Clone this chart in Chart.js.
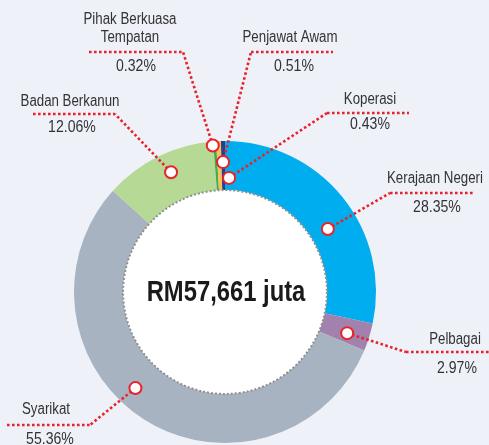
<!DOCTYPE html>
<html>
<head>
<meta charset="utf-8">
<script src="https://cdn.jsdelivr.net/npm/chart.js@4.4.0/dist/chart.umd.min.js"></script>
<style>
  html, body { margin: 0; padding: 0; background: #eef1f8; }
  #wrap { width: 489px; height: 445px; }
</style>
</head>
<body>
<div id="wrap"><canvas id="pie" width="489" height="445"></canvas></div>
<script>
// data
var labels = ["Kerajaan Negeri", "Pelbagai", "Syarikat", "Badan Berkanun", "Pihak Berkuasa Tempatan", "Penjawat Awam", "Koperasi"];
var shares = [28.35, 2.97, 55.36, 12.06, 0.32, 0.51, 0.43];
var colours = ["#00aeef", "#a282ad", "#a8b3c1", "#b6d995", "#3fae49", "#f6c15c", "#2c3d8c"];
var totalText = "RM57,661 juta";

var FONT = '"Liberation Sans", Arial, sans-serif';
var RED = "#e8232c";

// where each callout sits; nudge = degrees off the slice middle, rf = how far out in the ring
var callouts = [
  {name: ["Kerajaan Negeri"], nx: 435, ny: 179, px: 437, py: 208, bar: [390, 474, 193], from: 0, nudge: 7.5, rf: 0.38},
  {name: ["Pelbagai"], nx: 455, ny: 340, px: 457, py: 369, bar: [406, 489, 352], from: 0, nudge: 1.2, rf: 0.55},
  {name: ["Syarikat"], nx: 46, ny: 410, px: 50, py: 440, bar: [7, 90, 425], from: 1, nudge: 10.6, rf: 0.6},
  {name: ["Badan Berkanun"], nx: 70, ny: 102, px: 72, py: 128, bar: [33, 115, 114], from: 1, nudge: 2, rf: 0.6},
  {name: ["Pihak Berkuasa", "Tempatan"], nx: 130, ny: 20, px: 136, py: 67, bar: [89, 183, 52], from: 1, nudge: -0.8, rf: 0.92},
  {name: ["Penjawat Awam"], nx: 290, ny: 38, px: 294, py: 67, bar: [251, 333, 52], from: 0, nudge: 1.6, rf: 0.57},
  {name: ["Koperasi"], nx: 370, ny: 100, px: 370, py: 125, bar: [327, 409, 113], from: 0, nudge: 2.8, rf: 0.25}
];

function dotted(ctx, pts) {
  ctx.save();
  ctx.strokeStyle = RED;
  ctx.lineWidth = 2.6;
  ctx.setLineDash([2.6, 2.4]);
  ctx.beginPath();
  ctx.moveTo(pts[0][0], pts[0][1]);
  for (var k = 1; k < pts.length; k++) ctx.lineTo(pts[k][0], pts[k][1]);
  ctx.stroke();
  ctx.restore();
}

// condensed text: squeeze a normal sans horizontally
function narrowText(ctx, t, x, y, font, sx) {
  ctx.save();
  ctx.font = font;
  ctx.textAlign = "center";
  ctx.textBaseline = "middle";
  ctx.translate(x, y);
  ctx.scale(sx, 1);
  ctx.fillText(t, 0, 0);
  ctx.restore();
}

var calloutPlugin = {
  id: 'callouts',
  afterDatasetsDraw: function(chart) {
    var ctx = chart.ctx;
    var meta = chart.getDatasetMeta(0);
    var a0 = meta.data[0];
    var cx = a0.x, cy = a0.y, rin = a0.innerRadius;

    // white centre with grey dotted rim
    ctx.save();
    ctx.beginPath();
    ctx.arc(cx, cy, rin, 0, Math.PI * 2);
    ctx.fillStyle = "#ffffff";
    ctx.fill();
    ctx.setLineDash([2, 2]);
    ctx.lineWidth = 2;
    ctx.strokeStyle = "#8f8f8f";
    ctx.stroke();
    ctx.restore();

    ctx.fillStyle = "#1a1a1a";
    narrowText(ctx, totalText, cx + 1, cy + 1, "bold 29px " + FONT, 0.82);

    var marks = [];
    callouts.forEach(function(c, i) {
      var arc = meta.data[i];
      var p = arc.getProps(['x', 'y', 'startAngle', 'endAngle', 'innerRadius', 'outerRadius'], true);
      var ang = (p.startAngle + p.endAngle) / 2 + c.nudge * Math.PI / 180;
      var r = p.innerRadius + c.rf * (p.outerRadius - p.innerRadius);
      var mx = p.x + r * Math.cos(ang), my = p.y + r * Math.sin(ang);
      var ex = c.from === 0 ? c.bar[0] : c.bar[1];
      dotted(ctx, [[mx, my], [ex, c.bar[2]]]);
      dotted(ctx, [[c.bar[0], c.bar[2]], [c.bar[1], c.bar[2]]]);
      marks.push([mx, my]);

      ctx.fillStyle = "#333333";
      c.name.forEach(function(t, j) {
        narrowText(ctx, t, c.nx, c.ny + j * 18, "16px " + FONT, 0.83);
      });
      narrowText(ctx, shares[i].toFixed(2) + "%", c.px, c.py, "16px " + FONT, 0.88);
    });

    marks.forEach(function(m) {
      ctx.save();
      ctx.beginPath();
      ctx.arc(m[0], m[1], 6, 0, Math.PI * 2);
      ctx.fillStyle = "#ffffff";
      ctx.fill();
      ctx.lineWidth = 2;
      ctx.strokeStyle = RED;
      ctx.stroke();
      ctx.restore();
    });
  }
};

var ctx = document.getElementById("pie").getContext('2d');
var pie = new Chart(ctx, {
  type: 'doughnut',
  data: {
    labels: labels,
    datasets: [{
      data: shares,
      backgroundColor: colours,
      borderWidth: 0
    }]
  },
  options: {
    responsive: false,
    animation: false,
    cutout: '67.5%',
    layout: { padding: { left: 74, right: 113, top: 141, bottom: 2 } },
    plugins: {
      legend: { display: false },
      tooltip: { enabled: false }
    }
  },
  plugins: [calloutPlugin]
});
</script>
</body>
</html>
